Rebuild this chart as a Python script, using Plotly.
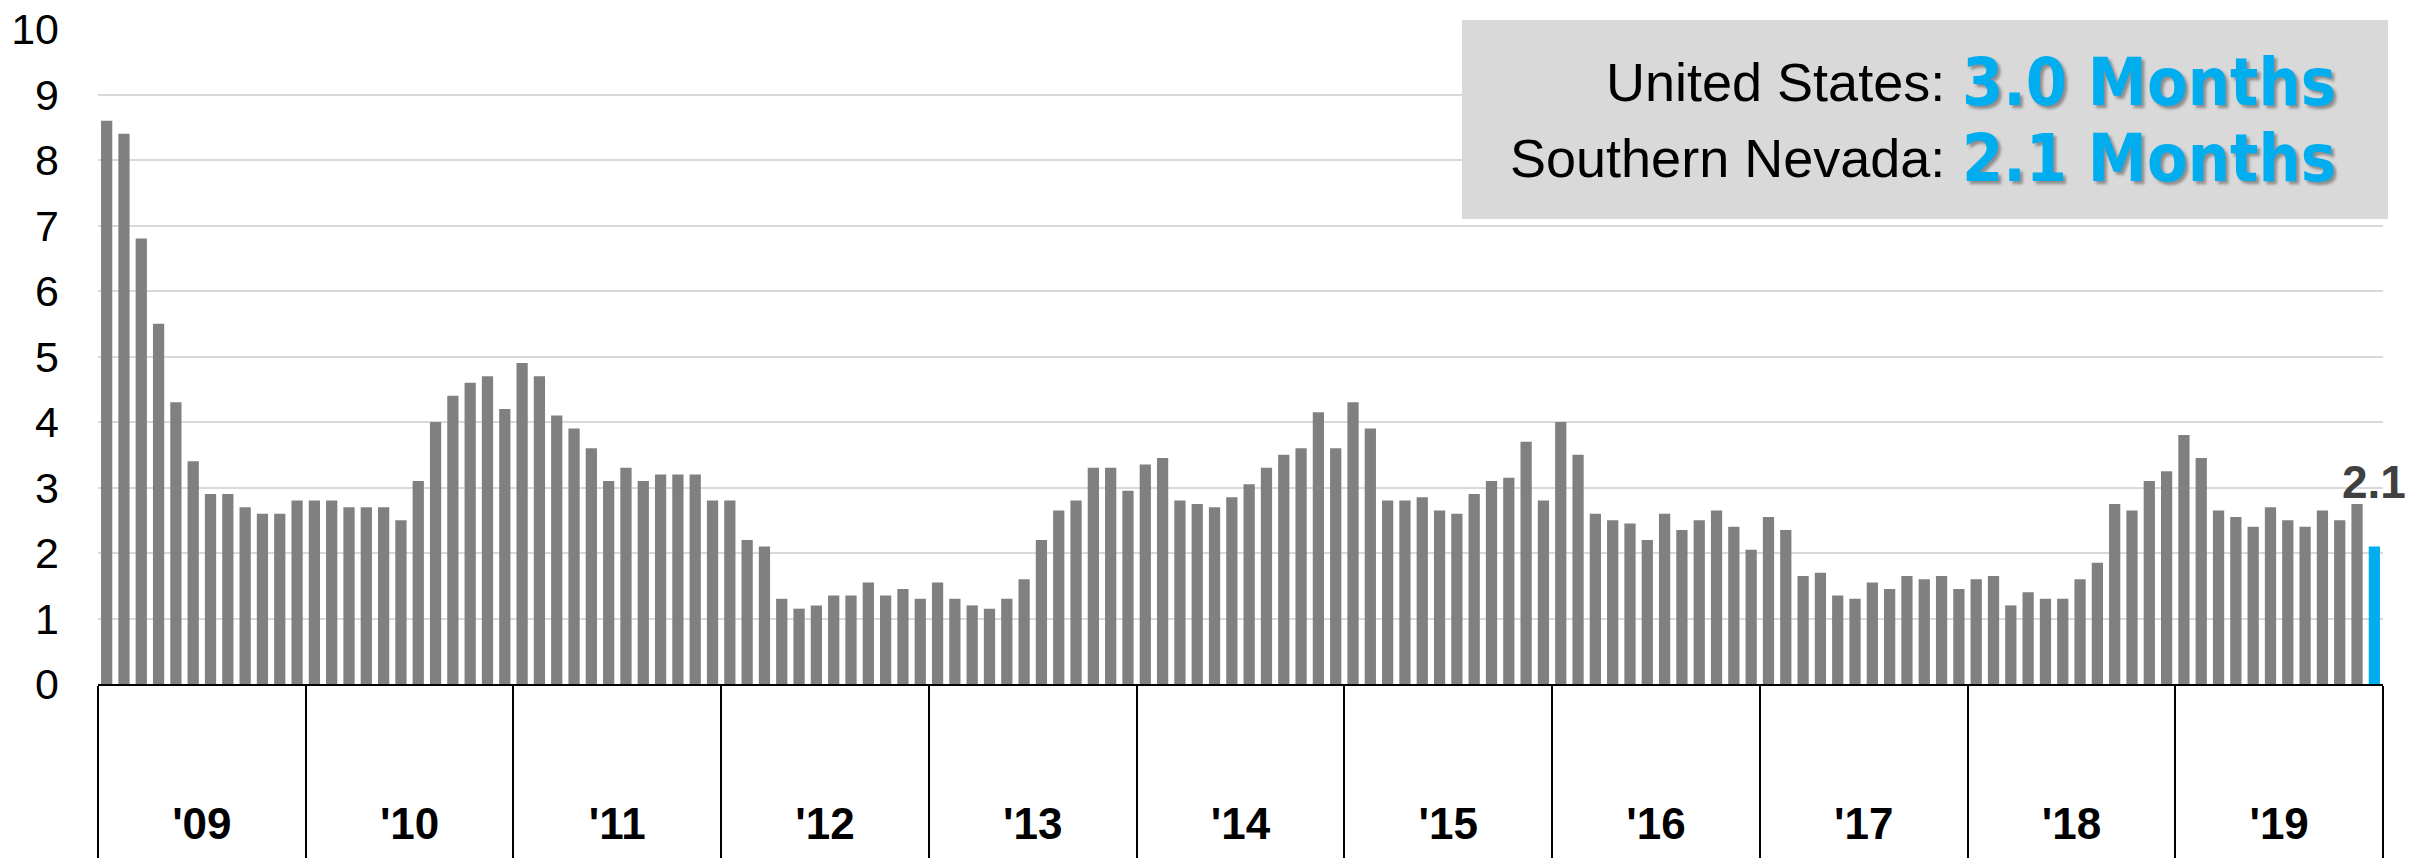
import plotly.graph_objects as go

# Months of housing supply, Southern Nevada, Jan 2009 - Dec 2019
years = ["'09", "'10", "'11", "'12", "'13", "'14", "'15", "'16", "'17", "'18", "'19"]
supply_2009 = [8.6, 8.4, 6.8, 5.5, 4.3, 3.4, 2.9, 2.9, 2.7, 2.6, 2.6, 2.8]
supply_2010 = [2.8, 2.8, 2.7, 2.7, 2.7, 2.5, 3.1, 4.0, 4.4, 4.6, 4.7, 4.2]
supply_2011 = [4.9, 4.7, 4.1, 3.9, 3.6, 3.1, 3.3, 3.1, 3.2, 3.2, 3.2, 2.8]
supply_2012 = [2.8, 2.2, 2.1, 1.3, 1.15, 1.2, 1.35, 1.35, 1.55, 1.35, 1.45, 1.3]
supply_2013 = [1.55, 1.3, 1.2, 1.15, 1.3, 1.6, 2.2, 2.65, 2.8, 3.3, 3.3, 2.95]
supply_2014 = [3.35, 3.45, 2.8, 2.75, 2.7, 2.85, 3.05, 3.3, 3.5, 3.6, 4.15, 3.6]
supply_2015 = [4.3, 3.9, 2.8, 2.8, 2.85, 2.65, 2.6, 2.9, 3.1, 3.15, 3.7, 2.8]
supply_2016 = [4.0, 3.5, 2.6, 2.5, 2.45, 2.2, 2.6, 2.35, 2.5, 2.65, 2.4, 2.05]
supply_2017 = [2.55, 2.35, 1.65, 1.7, 1.35, 1.3, 1.55, 1.45, 1.65, 1.6, 1.65, 1.45]
supply_2018 = [1.6, 1.65, 1.2, 1.4, 1.3, 1.3, 1.6, 1.85, 2.75, 2.65, 3.1, 3.25]
supply_2019 = [3.8, 3.45, 2.65, 2.55, 2.4, 2.7, 2.5, 2.4, 2.65, 2.5, 2.75, 2.1]

us_label = "United States:"
us_value = "3.0 Months"
nv_label = "Southern Nevada:"
nv_value = "2.1 Months"

supply = (supply_2009 + supply_2010 + supply_2011 + supply_2012 + supply_2013 + supply_2014
          + supply_2015 + supply_2016 + supply_2017 + supply_2018 + supply_2019)
months = list(range(len(supply)))

GREY = "#808080"
BLUE = "#00AEEF"
SANS = "Liberation Sans, Arial, sans-serif"
HEAVY = "DejaVu Sans Condensed, DejaVu Sans, Arial Black, sans-serif"

W, H = 2427, 858
L, R, T, B = 98, 44, 29, 174
PW, PH = W - L - R, H - T - B


def px_x(px):
    return (px - L) / PW


def px_y(py):
    return (H - B - py) / PH


colors = [GREY] * (len(supply) - 1) + [BLUE]

fig = go.Figure(go.Bar(
    x=months, y=supply, marker=dict(color=colors, line=dict(width=0)),
    hoverinfo="x+y", cliponaxis=False,
))

year_centers = [12 * i + 5.5 for i in range(len(years))]
year_edges = [12 * i - 0.5 for i in range(len(years) + 1)]

fig.update_layout(
    width=W, height=H,
    margin=dict(l=L, r=R, t=T, b=B, pad=0, autoexpand=False),
    paper_bgcolor="white", plot_bgcolor="white",
    bargap=0.35, showlegend=False,
    xaxis=dict(
        range=[-0.5, len(supply) - 0.5], automargin=False,
        tickmode="array", tickvals=year_centers, ticktext=years,
        ticks="", showgrid=False, zeroline=False,
        showline=True, linecolor="black", linewidth=2,
        tickfont=dict(family=SANS, size=44, color="black", weight="bold"),
        ticklabelstandoff=100,
        minor=dict(tickmode="array", tickvals=year_edges, ticks="outside",
                   ticklen=B, tickwidth=2, tickcolor="black", showgrid=False),
    ),
    yaxis=dict(
        range=[0, 10], tickmode="linear", tick0=0, dtick=1, automargin=False,
        showgrid=True, gridcolor="#d9d9d9", gridwidth=2,
        zeroline=False, showline=False, ticks="",
        tickfont=dict(family=SANS, size=43, color="black"),
        ticklabelstandoff=38,
    ),
)

# Summary box in the upper right
fig.add_shape(type="rect", xref="paper", yref="paper",
              x0=px_x(1462), x1=px_x(2388), y0=px_y(219), y1=px_y(20),
              fillcolor="#d9d9d9", line=dict(width=0), layer="above")

for label, value, cy in [(us_label, us_value, 82), (nv_label, nv_value, 158)]:
    fig.add_annotation(xref="paper", yref="paper", x=px_x(1947), y=px_y(cy),
                       xanchor="right", yanchor="middle", text=label, showarrow=False,
                       font=dict(family=SANS, size=54, color="black"))
    fig.add_annotation(xref="paper", yref="paper", x=px_x(1960), y=px_y(cy),
                       xanchor="left", yanchor="middle", text=value, showarrow=False,
                       font=dict(family=HEAVY, size=66, color=BLUE, weight="bold",
                                 shadow="3px 3px 3px rgba(0,0,0,0.35)"))

# Value label on the latest month
fig.add_annotation(x=months[-1], y=supply[-1], text=f"{supply[-1]:.1f}",
                   xanchor="center", yanchor="bottom", yshift=36, showarrow=False,
                   font=dict(family=SANS, size=46, color="#404040", weight="bold"))

fig.write_html("out.html")
